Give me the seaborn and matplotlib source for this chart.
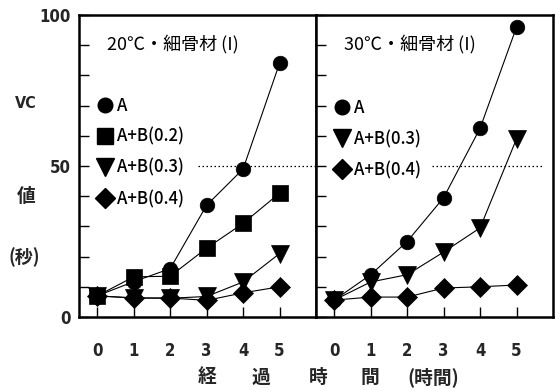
import matplotlib
matplotlib.use("Agg")
import matplotlib.pyplot as plt
from matplotlib.lines import Line2D
import seaborn as sns
import numpy as np

sns.set_theme(style="white")
plt.rcParams['font.family'] = ['Noto Sans CJK JP', 'DejaVu Sans']

hours = [0, 1, 2, 3, 4, 5]

# 20℃ panel
t20_A = [7, 11.7, 16, 37, 49, 84]
t20_B02 = [7, 13.3, 13.5, 22.8, 31, 41]
t20_B03 = [7, 6.3, 6.2, 6.8, 11.6, 21]
t20_B04 = [7, 6.3, 6.3, 5.5, 8, 10]

# 30℃ panel
t30_A = [5.6, 14, 25, 39.5, 62.5, 96]
t30_B03 = [5.6, 11.6, 14, 21.5, 29.5, 59]
t30_B04 = [5.6, 6.6, 6.6, 9.6, 10, 10.6]

labels20 = ["A", "A+B(0.2)", "A+B(0.3)", "A+B(0.4)"]
labels30 = ["A", "A+B(0.3)", "A+B(0.4)"]
title20 = "20℃・細骨材 (I)"
title30 = "30℃・細骨材 (I)"
yticklabels = {0: "0", 50: "50", 100: "100"}

markers = {"A": ("o", 10.5), "A+B(0.2)": ("s", 11), "A+B(0.3)": ("v", 13.5), "A+B(0.4)": ("D", 10)}

fig = plt.figure(figsize=(5.59, 3.90), dpi=100)
ax1 = fig.add_axes([79/559, 1-317/390, (316-79)/559, (317-15)/390])
ax2 = fig.add_axes([316/559, 1-317/390, (553-316)/559, (317-15)/390])

num_font = dict(family=['DejaVu Sans'], weight='bold', stretch='condensed', size=12)

def draw(ax, series, labels, title, legend_y, dot_span):
    for lab, vals in zip(labels, series):
        m, ms = markers[lab]
        sns.lineplot(x=hours, y=vals, ax=ax, color='black', lw=0.8, marker=m,
                     markersize=ms, markeredgecolor='black', markerfacecolor='black',
                     markeredgewidth=0.5, legend=False)
    ax.set_xlim(-0.5, 6.0)
    ax.set_ylim(0, 100)
    ax.axhline(50, xmin=dot_span[0], xmax=dot_span[1], color='black', lw=0.9, ls=(0, (1.2, 2.0)))
    for s in ax.spines.values():
        s.set_color('black')
        s.set_linewidth(1.8)
    ax.set_xticks(hours)
    ax.set_xticklabels([str(h) for h in hours], fontdict=num_font)
    ax.set_yticks(np.arange(0, 101, 10))
    ax.tick_params(axis='both', direction='in', length=7, width=1.0, color='black',
                   left=True, bottom=True, top=False, right=False)
    ax.tick_params(axis='x', pad=18)
    ax.text(0.118, 0.905, title, transform=ax.transAxes, fontsize=13,
            ha='left', va='center', color='black')
    handles = [Line2D([], [], ls='none', marker=markers[l][0], markersize=markers[l][1],
                      color='black') for l in labels]
    leg = ax.legend(handles, labels, loc='upper left', bbox_to_anchor=(0.075, legend_y),
                    frameon=False, fontsize=12, handlelength=1.0, handletextpad=0.2,
                    labelspacing=0.78, borderpad=0, borderaxespad=0)
    for t in leg.get_texts():
        t.set_color('black')
        t.set_fontweight('medium')
    ax.set_xlabel("")
    ax.set_ylabel("")

draw(ax1, [t20_A, t20_B02, t20_B03, t20_B04], labels20, title20, 0.73, (0.5, 1.0))
draw(ax2, [t30_A, t30_B03, t30_B04], labels30, title30, 0.722, (0.49, 0.96))

ax1.set_yticklabels([yticklabels.get(v, "") for v in range(0, 101, 10)], fontdict=num_font)
ax2.set_yticklabels([])
ax1.tick_params(axis='y', pad=6)

# y label pieces
fig.text(26/559, 1-103/390, "VC", ha='center', va='center', fontsize=11.5, weight='bold',
         family=['DejaVu Sans'], stretch='condensed')
fig.text(26/559, 1-197/390, "値", ha='center', va='center', fontsize=13.5, weight='bold')
fig.text(24/559, 1-257/390, "(秒)", ha='center', va='center', fontsize=13, weight='bold')

# x label pieces
for ch, cx in [("経", 207), ("過", 261), ("時", 318), ("間", 370), ("(時間)", 433)]:
    fig.text(cx/559, 1-377/390, ch, ha='center', va='center', fontsize=13.5, weight='bold')

fig.savefig("out.png", dpi=100)
